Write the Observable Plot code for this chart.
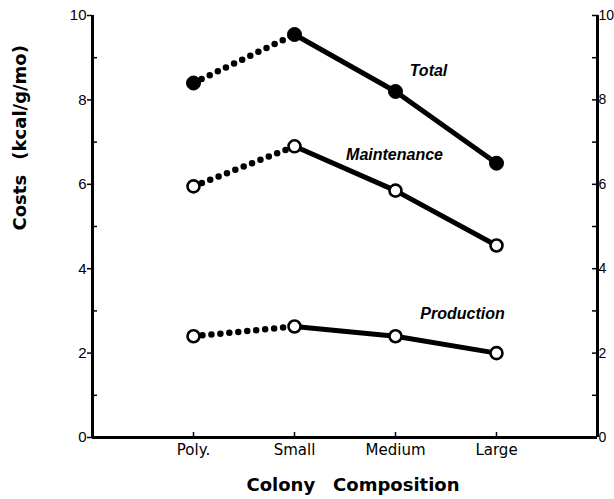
<!DOCTYPE html>
<html>
<head>
<meta charset="utf-8">
<script src="https://cdn.jsdelivr.net/npm/d3@7"></script>
<script src="https://cdn.jsdelivr.net/npm/@observablehq/plot@0.6"></script>
<style>
  html, body { margin: 0; padding: 0; background: #fff; }
</style>
</head>
<body>
<div id="chart"></div>
<script>
// ---- data ----
const categories = ["Poly.", "Small", "Medium", "Large"];
const seriesNames = ["Total", "Maintenance", "Production"];
const total = [8.4, 9.55, 8.2, 6.5];
const maintenance = [5.95, 6.9, 5.85, 4.55];
const production = [2.4, 2.63, 2.4, 2.0];
const yTicks = [0, 2, 4, 6, 8, 10];
const yMinorTicks = [1, 3, 5, 7, 9];
const yAllTicks = [1, 2, 3, 4, 5, 6, 7, 8, 9, 10];
const xLabel = "Colony\u2003Composition";
const yLabel = "Costs\u2002 (kcal/g/mo)";

const values = [total, maintenance, production];
const rows = seriesNames.flatMap((s, k) =>
  values[k].map((v, i) => ({series: s, pos: i + 1, cat: categories[i], value: v}))
);
const xPositions = categories.map((c, i) => i + 1);
const xDomain = [0, categories.length + 1];

const dotted = rows.filter(d => d.pos <= 2);
const solid = rows.filter(d => d.pos >= 2);
const labelAt = s => rows.filter(d => d.series === s && d.cat === "Medium");

const labelFont = {fontFamily: "Liberation Sans", fontWeight: "bold", fontStyle: "italic", fontSize: 16, fill: "black"};

const chart = Plot.plot({
  width: 614,
  height: 499,
  marginLeft: 92,
  marginRight: 17,
  marginTop: 15,
  marginBottom: 62,
  style: {background: "white", color: "black", fontFamily: "DejaVu Sans"},
  x: {type: "linear", domain: xDomain},
  y: {domain: [0, 10]},
  marks: [
    // frame lines
    Plot.ruleX(xDomain, {stroke: "black", strokeWidth: 3}),
    Plot.ruleY([0], {stroke: "black", strokeWidth: 3}),
    // x axis: ticks pointing up, labels
    Plot.axisX({ticks: xPositions, tickSize: -5, text: null, label: null, strokeWidth: 1.5}),
    Plot.axisX({ticks: xPositions, tickSize: 0, tickPadding: 7, label: null, tickFormat: i => categories[i - 1], fontSize: 15, fontFamily: "DejaVu Sans"}),
    // left axis
    Plot.axisY({anchor: "left", ticks: yTicks, tickSize: 5, tickPadding: 1, label: null, fontSize: 15, fontFamily: "Liberation Sans", strokeWidth: 1.5}),
    Plot.axisY({anchor: "left", ticks: yMinorTicks, tickSize: -5, text: null, label: null, strokeWidth: 1.5}),
    // right axis
    Plot.axisY({anchor: "right", ticks: yAllTicks, tickSize: -6, text: null, label: null, strokeWidth: 1.5}),
    Plot.axisY({anchor: "right", ticks: yTicks, tickSize: 0, tickPadding: 1, label: null, fontSize: 14, fontFamily: "Liberation Sans"}),
    // lines
    Plot.line(dotted, {x: "pos", y: "value", z: "series", stroke: "black", strokeWidth: 6.5, strokeDasharray: "0 9", strokeLinecap: "round"}),
    Plot.line(solid, {x: "pos", y: "value", z: "series", stroke: "black", strokeWidth: 5, strokeLinecap: "round"}),
    // markers
    Plot.dot(rows.filter(d => d.series === "Total"), {x: "pos", y: "value", r: 7, fill: "black", stroke: "black", strokeWidth: 1}),
    Plot.dot(rows.filter(d => d.series !== "Total"), {x: "pos", y: "value", r: 6, fill: "white", stroke: "black", strokeWidth: 2.6}),
    // series labels
    Plot.text(labelAt("Total"), {x: "pos", y: "value", text: "series", dx: 33, dy: -21, ...labelFont}),
    Plot.text(labelAt("Maintenance"), {x: "pos", y: "value", text: "series", dx: -1, dy: -36, ...labelFont}),
    Plot.text(labelAt("Production"), {x: "pos", y: "value", text: "series", dx: 67, dy: -22, ...labelFont}),
    // axis titles
    Plot.text([xLabel], {frameAnchor: "bottom", text: d => d, dx: 8, dy: 53, fontFamily: "DejaVu Sans", fontWeight: "bold", fontSize: 18, fill: "black"}),
    Plot.text([yLabel], {frameAnchor: "left", text: d => d, rotate: -90, dx: -72, dy: 4, fontFamily: "DejaVu Sans", fontWeight: "bold", fontSize: 18, fill: "black"})
  ]
});
document.getElementById("chart").append(chart);
</script>
</body>
</html>
